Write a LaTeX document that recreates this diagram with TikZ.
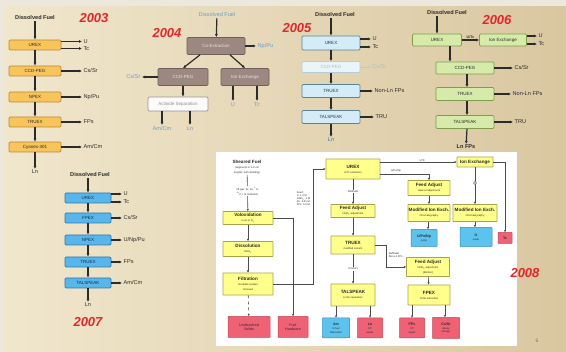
\documentclass[tikz,border=0pt]{standalone}
\usepackage{fontspec}
\setmainfont{Liberation Sans}
\usetikzlibrary{arrows.meta,calc}

\definecolor{bgL}{HTML}{F1E7CD}
\definecolor{bgM}{HTML}{F6EDD6}
\definecolor{bgR}{HTML}{D9C7A0}
\definecolor{edgeC}{HTML}{ECE8DE}
\definecolor{lineC}{HTML}{2B2B2B}
\definecolor{txtC}{HTML}{2A2A2A}
\definecolor{yrC}{HTML}{E4262C}
\definecolor{cA}{HTML}{F9C55A}
\definecolor{cAd}{HTML}{B8893A}
\definecolor{cB}{HTML}{9C8781}
\definecolor{cBd}{HTML}{6F605B}
\definecolor{cBt}{HTML}{EDE5E0}
\definecolor{cBl}{HTML}{6E9CC8}
\definecolor{cC}{HTML}{D3ECF7}
\definecolor{cCd}{HTML}{5E8296}
\definecolor{cCt}{HTML}{1F3A4A}
\definecolor{cCf}{HTML}{EAF5FA}
\definecolor{cCfd}{HTML}{B8CCD6}
\definecolor{cCft}{HTML}{A3BDCB}
\definecolor{cCl}{HTML}{3E6FA8}
\definecolor{cD}{HTML}{D6EBAA}
\definecolor{cDd}{HTML}{7E9E4E}
\definecolor{cE}{HTML}{58B6EA}
\definecolor{cEd}{HTML}{2C78B0}
\definecolor{cEt}{HTML}{0E2E52}
\definecolor{cF}{HTML}{FFFF8C}
\definecolor{cFd}{HTML}{A9A24A}
\definecolor{redF}{HTML}{EF6174}
\definecolor{redD}{HTML}{C24656}
\definecolor{bluF}{HTML}{5CC3EE}
\definecolor{bluD}{HTML}{2E8AB8}

\newcommand\lblfont{\fontsize{5.6}{6}\selectfont}
\newcommand\boxfont{\fontsize{4.5}{5}\selectfont}
\newcommand\smtxt{\fontsize{2.6}{3}\selectfont}
\newcommand\midfont{\fontsize{4.6}{5}\selectfont\bfseries}

\tikzset{
  lbl/.style={font=\lblfont, text=txtC, inner sep=1pt},
  ttl/.style={font=\lblfont\bfseries, text=txtC, inner sep=1pt},
  yr/.style={font=\fontsize{13}{13}\selectfont\bfseries\itshape, text=yrC, inner sep=0pt},
  box/.style={rounded corners=1.2pt, line width=0.7pt, inner sep=0.5pt, align=center, font=\boxfont},
  bA/.style={box, fill=cA, draw=cAd, minimum width=52pt, minimum height=10pt, text=txtC},
  bB/.style={box, fill=cB, draw=cBd, text=cBt},
  bC/.style={box, fill=cC, draw=cCd, minimum width=58pt, text=cCt},
  bCf/.style={box, fill=cCf, draw=cCfd, minimum width=58pt, text=cCft},
  bD/.style={box, fill=cD, draw=cDd, text=txtC},
  bE/.style={box, fill=cE, draw=cEd, minimum width=46pt, minimum height=10pt, text=cEt},
  bF/.style={box, rounded corners=0.4pt, fill=cF, draw=cFd, line width=0.6pt, text=txtC},
  rF/.style={box, rounded corners=0.4pt, fill=redF, draw=redD, line width=0.5pt, text=txtC, font=\fontsize{3.6}{3.8}\selectfont},
  uF/.style={box, rounded corners=0.4pt, fill=bluF, draw=bluD, line width=0.5pt, text=txtC, font=\fontsize{3.6}{3.8}\selectfont},
  arr/.style={draw=lineC, line width=1.2pt, -{Latex[length=3pt,width=3pt]}},
  farr/.style={draw=cCfd, line width=0.9pt, -{Latex[length=2.6pt,width=2.6pt]}},
  tarr/.style={draw=lineC!85, line width=0.6pt, -{Latex[length=2.2pt,width=2.2pt]}},
  tag/.style={font=\smtxt, text=txtC, inner sep=0.6pt, align=center},
}

\begin{document}
\begin{tikzpicture}[x=1pt,y=-1pt]
\useasboundingbox (0,0) rectangle (566,352);
% slide background
\shade[left color=bgL, middle color=bgM, right color=bgR] (0,0) rectangle (566,352);
\fill[edgeC] (0,0) rectangle (566,6);
\fill[edgeC] (0,0) rectangle (4,352);

% ---------------- 2003 ----------------
\node[ttl] (d03) at (35,18) {Dissolved Fuel};
\node[yr] (y03) at (94,18) {2003};
\node[bA] (ur03) at (35,45) {UREX};
\node[bA] (cc03) at (35,71) {CCD-PEG};
\node[bA] (np03) at (35,97) {NPEX};
\node[bA] (tr03) at (35,122) {TRUEX};
\node[bA] (cy03) at (35,147) {Cyanex-301};
\node[lbl] (ln03) at (35,172) {Ln};
\draw[arr] (d03) -- (ur03);
\draw[arr] (ur03) -- (cc03);
\draw[arr] (cc03) -- (np03);
\draw[arr] (np03) -- (tr03);
\draw[arr] (tr03) -- (cy03);
\draw[arr] (cy03) -- (ln03);
\coordinate (o03a) at (82,41.5);
\coordinate (o03b) at (82,48.5);
\coordinate (o03c) at (82,71);
\coordinate (o03d) at (82,97);
\coordinate (o03e) at (82,122);
\coordinate (o03f) at (82,147);
\draw[arr] (ur03.east |- o03a) -- (o03a) node[lbl,anchor=west] (l03a) {U};
\draw[arr] (ur03.east |- o03b) -- (o03b) node[lbl,anchor=west] (l03b) {Tc};
\draw[arr] (cc03.east) -- (o03c) node[lbl,anchor=west] (l03c) {Cs/Sr};
\draw[arr] (np03.east) -- (o03d) node[lbl,anchor=west] (l03d) {Np/Pu};
\draw[arr] (tr03.east) -- (o03e) node[lbl,anchor=west] (l03e) {FPs};
\draw[arr] (cy03.east) -- (o03f) node[lbl,anchor=west] (l03f) {Am/Cm};

% ---------------- 2004 ----------------
\node[lbl, text=cBl] (d04) at (217,15) {Dissolved Fuel};
\node[yr] (y04) at (167,33) {2004};
\node[bB, minimum width=58pt, minimum height=17pt] (co04) at (216,46) {Co-Extraction};
\node[bB, minimum width=50pt, minimum height=17pt] (cs04) at (183,77) {CCD-PEG};
\node[bB, minimum width=48pt, minimum height=17pt] (ix04) at (245,77) {Ion Exchange};
\node[box, fill=white!85!cB!20, draw=cBd!70, minimum width=60pt, minimum height=14pt, text=cB] (ac04) at (178,104) {Actinide Separation};
\draw[arr] (d04) -- (co04);
\draw[arr] ([xshift=-16pt]co04.south) -- (cs04.north);
\draw[arr] ([xshift=14pt]co04.south) -- (ix04.north);
\draw[arr] (cs04.south) -- (cs04.south |- ac04.north);
\coordinate (o04a) at (256,46);
\coordinate (o04b) at (142,77);
\coordinate (o04c) at (233,101);
\coordinate (o04d) at (257,101);
\coordinate (o04e) at (162,125);
\coordinate (o04f) at (190,125);
\draw[arr] (co04.east) -- (o04a) node[lbl,anchor=west,text=cBl] (l04a) {Np/Pu};
\draw[arr] (cs04.west) -- (o04b) node[lbl,anchor=east,text=cBl] (l04b) {Cs/Sr};
\draw[arr] (o04c |- ix04.south) -- (o04c) node[lbl,anchor=north,text=cBl] (l04c) {U};
\draw[arr] (o04d |- ix04.south) -- (o04d) node[lbl,anchor=north,text=cBl] (l04d) {Tc};
\draw[arr] (o04e |- ac04.south) -- (o04e) node[lbl,anchor=north,text=cBl] (l04e) {Am/Cm};
\draw[arr] (o04f |- ac04.south) -- (o04f) node[lbl,anchor=north,text=cBl] (l04f) {Ln};

% ---------------- 2005 ----------------
\node[ttl] (d05) at (335,15) {Dissolved Fuel};
\node[yr] (y05) at (297,28) {2005};
\node[bC, minimum height=14pt] (ur05) at (331,43) {UREX};
\node[bCf, minimum height=11pt] (cc05) at (331,67) {CCD-PEG};
\node[bC, minimum height=13pt] (tr05) at (331,91) {TRUEX};
\node[bC, minimum height=13pt] (ta05) at (331,117) {TALSPEAK};
\node[lbl, text=cCl] (ln05) at (331,140) {Ln};
\draw[arr] (ur05.north |- d05.south) -- (ur05.north);
\draw[arr] (ur05) -- (cc05);
\draw[arr] (cc05) -- (tr05);
\draw[arr] (tr05) -- (ta05);
\draw[arr] (ta05) -- (ln05);
\coordinate (o05a) at (371,39);
\coordinate (o05b) at (371,47);
\coordinate (o05c) at (371,67);
\coordinate (o05d) at (373,91);
\coordinate (o05e) at (374,117);
\draw[arr] (ur05.east |- o05a) -- (o05a) node[lbl,anchor=west] (l05a) {U};
\draw[arr] (ur05.east |- o05b) -- (o05b) node[lbl,anchor=west] (l05b) {Tc};
\draw[farr] (cc05.east) -- (o05c) node[lbl,anchor=west,text=cCft] (l05c) {Cs/Sr};
\draw[arr] (tr05.east) -- (o05d) node[lbl,anchor=west] (l05d) {Non-Ln FPs};
\draw[arr] (ta05.east) -- (o05e) node[lbl,anchor=west] (l05e) {TRU};

% ---------------- 2006 ----------------
\node[ttl] (d06) at (447,13) {Dissolved Fuel};
\node[yr] (y06) at (497,20) {2006};
\node[bD, minimum width=49pt, minimum height=12pt] (ur06) at (437,40) {UREX};
\node[bD, minimum width=47pt, minimum height=12pt] (ix06) at (503,40) {Ion Exchange};
\node[bD, minimum width=58pt, minimum height=12pt] (cc06) at (465,68) {CCD-PEG};
\node[bD, minimum width=58pt, minimum height=13pt] (tr06) at (465,94) {TRUEX};
\node[bD, minimum width=58pt, minimum height=13pt] (ta06) at (465,122) {TALSPEAK};
\node[ttl] (ln06) at (466,147) {Ln FPs};
\draw[arr] (ur06.north |- d06.south) -- (ur06.north);
\draw[arr] (ur06) -- (ix06) node[midway,above,tag,font=\fontsize{3.6}{4}\selectfont\bfseries] (l06u) {U/Tc};
\draw[arr] ([xshift=13pt]ur06.south) -- ([xshift=13pt]ur06.south |- cc06.north);
\draw[arr] ([xshift=2pt]cc06.south) -- ([xshift=2pt]tr06.north);
\draw[arr] ([xshift=2pt]tr06.south) -- ([xshift=2pt]ta06.north);
\draw[arr] ([xshift=2pt]ta06.south) -- (ln06);
\coordinate (o06a) at (537,36);
\coordinate (o06b) at (537,44);
\coordinate (o06c) at (513,68);
\coordinate (o06d) at (511,94);
\coordinate (o06e) at (513,122);
\draw[arr] (ix06.east |- o06a) -- (o06a) node[lbl,anchor=west] (l06a) {U};
\draw[arr] (ix06.east |- o06b) -- (o06b) node[lbl,anchor=west] (l06b) {Tc};
\draw[arr] (cc06.east) -- (o06c) node[lbl,anchor=west] (l06c) {Cs/Sr};
\draw[arr] (tr06.east) -- (o06d) node[lbl,anchor=west] (l06d) {Non-Ln FPs};
\draw[arr] (ta06.east) -- (o06e) node[lbl,anchor=west] (l06e) {TRU};

% ---------------- 2007 ----------------
\node[ttl] (d07) at (90,175) {Dissolved Fuel};
\node[bE] (ur07) at (88,198) {UREX};
\node[bE] (fp07) at (88,218) {FPEX};
\node[bE] (np07) at (88,240) {NPEX};
\node[bE] (tr07) at (88,262) {TRUEX};
\node[bE] (ta07) at (88,283) {TALSPEAK};
\node[lbl] (ln07) at (88,305) {Ln};
\node[yr] (y07) at (88,322) {2007};
\draw[arr] (ur07.north |- d07.south) -- (ur07.north);
\draw[arr] (ur07) -- (fp07);
\draw[arr] (fp07) -- (np07);
\draw[arr] (np07) -- (tr07);
\draw[arr] (tr07) -- (ta07);
\draw[arr] (ta07) -- (ln07);
\coordinate (o07a) at (122,194);
\coordinate (o07b) at (122,202);
\coordinate (o07c) at (122,218);
\coordinate (o07d) at (122,240);
\coordinate (o07e) at (122,262);
\coordinate (o07f) at (122,283);
\draw[arr] (ur07.east |- o07a) -- (o07a) node[lbl,anchor=west] (l07a) {U};
\draw[arr] (ur07.east |- o07b) -- (o07b) node[lbl,anchor=west] (l07b) {Tc};
\draw[arr] (fp07.east) -- (o07c) node[lbl,anchor=west] (l07c) {Cs/Sr};
\draw[arr] (np07.east) -- (o07d) node[lbl,anchor=west] (l07d) {U/Np/Pu};
\draw[arr] (tr07.east) -- (o07e) node[lbl,anchor=west] (l07e) {FPs};
\draw[arr] (ta07.east) -- (o07f) node[lbl,anchor=west] (l07f) {Am/Cm};

% ---------------- 2008 ----------------
\fill[white] (216,152) rectangle (517,346);
\node[yr] (y08) at (525,273) {2008};
\node[text=black!55, font=\fontsize{5}{5}\selectfont, inner sep=0pt] (pg) at (537,341) {6};

% head end
\node[tag, font=\fontsize{4.6}{5}\selectfont] (df08) at (247,167) {\textbf{Sheared Fuel}\\\smtxt (segments in 1--2 cm\\\smtxt lengths, with cladding)};
\node[bF, minimum width=50pt, minimum height=13pt] (vo08) at (248,218) {\midfont Voloxidation\\\smtxt in air or O\textsubscript{2}};
\node[bF, minimum width=50pt, minimum height=15pt] (ds08) at (248,249) {\midfont Dissolution\\\smtxt HNO\textsubscript{3}};
\node[bF, minimum width=50pt, minimum height=22pt] (fi08) at (248,284) {\midfont Filtration\\\smtxt insoluble residue\\\smtxt removed};
\node[rF, minimum width=42pt, minimum height=21pt] (us08) at (249,327) {Undissolved\\Solids};
\node[rF, minimum width=30pt, minimum height=21pt] (fh08) at (293,327) {Fuel\\Hardware};
\draw[tarr] (df08) -- (vo08) node[pos=0.45, tag, fill=white] (og08) {off-gas: Kr, Xe, \textsuperscript{3}H,\\\smtxt \textsuperscript{14}C, I to treatment};
\draw[tarr] (vo08) -- (ds08);
\draw[tarr] (ds08) -- (fi08);
\draw[tarr, dashed] (fi08) -- (us08);
\draw[tarr] (vo08.east) -| (fh08.north);

% main column
\node[bF, minimum width=54pt, minimum height=20pt] (ux08) at (353,169) {\midfont UREX\\\smtxt U/Tc extraction};
\node[bF, minimum width=44pt, minimum height=13pt] (fa108) at (353,211) {\midfont Feed Adjust\\\smtxt HNO\textsubscript{3} adjustment};
\node[bF, minimum width=44pt, minimum height=18pt] (tr08) at (353,245) {\midfont TRUEX\\\smtxt modified solvent};
\node[bF, minimum width=44pt, minimum height=22pt] (ta08) at (353,295) {\midfont TALSPEAK\\\smtxt Ln/An separation};
\node[uF, minimum width=27pt, minimum height=20pt] (am08) at (336,328) {\textbf{Am}\\\smtxt to fuel\\\smtxt fabrication};
\node[rF, minimum width=25pt, minimum height=20pt] (ln08) at (370,328) {\textbf{Ln}\\\smtxt FP\\\smtxt waste};
\draw[tarr] (ux08) -- (fa108) node[midway, tag, fill=white] (l08r) {Raffinate};
\draw[tarr] (fa108) -- (tr08);
\draw[tarr] (tr08) -- (ta08) node[midway, tag, fill=white] (l08p) {Product};
\draw[tarr] (am08.north |- ta08.south) -- (am08.north);
\draw[tarr] (ln08.north |- ta08.south) -- (ln08.north);

% clarified feed to UREX
\coordinate (feedx) at (313,0);
\draw[tarr] (fi08.east) -- (fi08.east -| feedx) |- (ux08.west);
\node[tag, anchor=east, align=left] (fd08) at (311,199) {Feed:\\\smtxt U: 1.3 M\\\smtxt HNO\textsubscript{3}: 1 M\\\smtxt Pu: 0.01 M\\\smtxt FPs: 0.2 M};

% U / Tc branch
\node[bF, minimum width=36pt, minimum height=10pt] (ix08) at (475,162) {\midfont Ion Exchange};
\node[bF, minimum width=44pt, minimum height=17pt] (mx208) at (475,213) {\midfont Modified Ion Exch.\\\smtxt chromatography};
\node[uF, minimum width=32pt, minimum height=19pt] (u08) at (476,237) {\textbf{U}\\\smtxt oxide};
\node[rF, minimum width=14pt, minimum height=11pt] (tc08) at (505,238) {\textbf{Tc}};
\draw[tarr] (ux08.east |- ix08.west) -- (ix08.west) node[pos=0.55, above, tag] (l08t) {U/Tc};
\draw[tarr] (ix08) -- (mx208);
\node[circle, draw=lineC!70, fill=white, line width=0.4pt, minimum size=3pt, inner sep=0pt] (vv08) at (475,183) {};
\draw[tarr] (ix08.east) -| (tc08.north);
\draw[tarr] (mx208) -- (mx208.south |- u08.north);

% U/Pu/Np branch
\coordinate (k2) at (0,174);
\node[bF, minimum width=42pt, minimum height=15pt] (fa208) at (429,188) {\midfont Feed Adjust\\\smtxt valence adjustment};
\node[bF, minimum width=42pt, minimum height=17pt] (mx108) at (429,213) {\midfont Modified Ion Exch.\\\smtxt chromatography};
\node[uF, minimum width=26pt, minimum height=17pt] (up08) at (424,238) {\textbf{U/Pu/Np}\\\smtxt oxide};
\draw[tarr] (ux08.east |- k2) -| (fa208.north);
\node[tag] (l08n) at (396,171) {U/Pu/Np};
\draw[tarr] (fa208) -- (mx108);
\draw[tarr] ([xshift=-1pt]mx108.south) -- ([xshift=-1pt]mx108.south |- up08.north);

% FP branch
\coordinate (k3) at (386,0);
\node[bF, minimum width=43pt, minimum height=19pt] (fa308) at (428,267) {\midfont Feed Adjust\\\smtxt HNO\textsubscript{3} adjustment\\\smtxt (dilution)};
\node[bF, minimum width=42pt, minimum height=20pt] (fp08) at (429,295) {\midfont FPEX\\\smtxt Cs/Sr extraction};
\node[rF, minimum width=25pt, minimum height=20pt] (fps08) at (412,328) {\textbf{FPs}\\\smtxt FP\\\smtxt waste};
\node[rF, minimum width=27pt, minimum height=21pt] (cs08) at (446,328) {\textbf{Cs/Sr}\\\smtxt decay\\\smtxt storage};
\draw[tarr] (tr08.east) -- (tr08.east -| k3) |- (fa308.west);
\node[tag, anchor=west, align=left] (l08f) at (388,255) {Raffinate\\\smtxt Non-Ln FPs};
\draw[tarr] (fa308) -- (fp08);
\draw[tarr] (fps08.north |- fp08.south) -- (fps08.north);
\draw[tarr] ([xshift=-1pt]cs08.north |- fp08.south) -- ([xshift=-1pt]cs08.north);
\end{tikzpicture}
\end{document}
